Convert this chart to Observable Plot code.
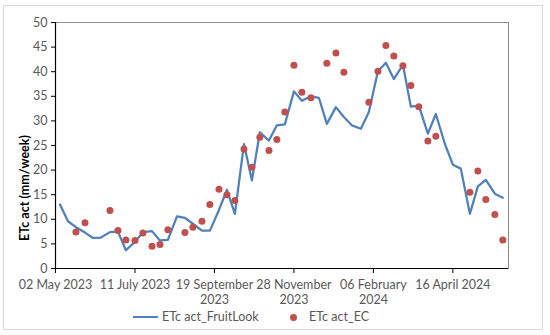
<!DOCTYPE html>
<html><head><meta charset="utf-8">
<script src="https://cdn.jsdelivr.net/npm/d3@7"></script>
<script src="https://cdn.jsdelivr.net/npm/@observablehq/plot@0.6"></script>
<style>
body{margin:0;background:#fff;font-family:Lato,"Open Sans",sans-serif;}
#wrap{position:relative;width:550px;height:335px;overflow:hidden;}
#border{position:absolute;left:3px;top:5px;width:540px;height:325px;border:1px solid #d9d9d9;box-sizing:border-box;}
#chart{position:absolute;left:0;top:0;}
#ylab{position:absolute;left:24px;top:188px;transform:translate(-50%,-50%) rotate(-90deg);font-weight:bold;font-size:12.5px;color:#000;white-space:nowrap;}
.leg{position:absolute;font-size:12.5px;color:#595959;white-space:nowrap;line-height:1;}
</style></head>
<body>
<div id="wrap">
  <div id="border"></div>
  <div id="chart"></div>
  <div id="ylab">ETc act (mm/week)</div>
  <div id="legend"></div>
</div>
<script>
const dates = ["2023-05-06","2023-05-13","2023-05-20","2023-05-28","2023-06-04","2023-06-11","2023-06-19","2023-06-26","2023-07-03","2023-07-11",
"2023-07-18","2023-07-26","2023-08-02","2023-08-09","2023-08-17","2023-08-24","2023-08-31","2023-09-08","2023-09-15","2023-09-23",
"2023-09-30","2023-10-07","2023-10-15","2023-10-22","2023-10-29","2023-11-06","2023-11-13","2023-11-20","2023-11-28","2023-12-05",
"2023-12-13","2023-12-20","2023-12-27","2024-01-04","2024-01-11","2024-01-18","2024-01-26","2024-02-02","2024-02-10","2024-02-17",
"2024-02-24","2024-03-03","2024-03-10","2024-03-17","2024-03-25","2024-04-01","2024-04-09","2024-04-16","2024-04-23","2024-05-01",
"2024-05-08","2024-05-15","2024-05-23","2024-05-30"];
const fruitLook = [13.0,9.6,8.4,7.3,6.2,6.3,7.4,7.5,3.7,5.4,
7.4,7.6,5.7,5.8,10.6,10.3,9.1,7.7,7.7,11.9,
16.0,11.1,25.3,17.9,27.7,26.0,29.1,29.3,36.0,34.1,
35.0,34.7,29.4,32.8,30.8,29.1,28.4,31.8,40.1,41.8,
38.5,41.4,32.9,33.1,27.4,31.4,25.3,21.1,20.3,11.1,
16.7,18.0,15.2,14.4];
const ecValues = [null,null,7.4,9.3,null,null,11.8,7.7,5.8,5.7,
7.2,4.5,4.9,7.9,null,7.3,8.4,9.6,13.0,16.1,
15.0,13.8,24.3,20.6,26.7,24.0,26.2,31.8,41.3,35.8,
34.7,null,41.7,43.8,39.9,null,null,33.8,40.1,45.3,
43.2,41.2,37.2,32.9,25.9,26.9,null,null,null,15.5,
19.8,14.0,11.0,5.8];
const tickDates = ["2023-05-02","2023-07-11","2023-09-19","2023-11-28","2024-02-06","2024-04-16"];
const tickLabels = ["02 May 2023","11 July 2023","19 September\n2023","28 November\n2023","06 February\n2024","16 April 2024"];
const yTicks = [0,5,10,15,20,25,30,35,40,45,50];
const seriesNames = ["ETc act_FruitLook","ETc act_EC"];
const colors = ["#4F81BD","#C0504D"];

const data = dates.map((d,i)=>({date:new Date(d), fl:fruitLook[i], ec:ecValues[i]}));
const labelMap = new Map(tickDates.map((d,i)=>[+new Date(d), tickLabels[i]]));
const x0 = new Date("2023-05-02"), x1 = new Date("2024-06-04");

const plot = Plot.plot({
  width:550, height:335,
  marginTop:22, marginBottom:67, marginLeft:55, marginRight:42,
  style:{fontFamily:"Lato, 'Open Sans', sans-serif", fontSize:"12.5px", background:"transparent"},
  x:{type:"utc", domain:[x0,x1]},
  y:{domain:[0,50]},
  marks:[
    Plot.frame({stroke:"#8c8c8c"}),
    Plot.axisY({ticks:yTicks, tickSize:4, tickPadding:4, label:null, stroke:"#000", fill:"#595959"}),
    Plot.axisX({ticks:tickDates.map(d=>new Date(d)), tickFormat:d=>labelMap.get(+d), tickSize:5, tickPadding:5, label:null, stroke:"#000", fill:"#595959", lineHeight:1.2}),
    Plot.ruleX([x0], {stroke:"#000", strokeWidth:1.2}),
    Plot.ruleY([0], {stroke:"#000", strokeWidth:1.2}),
    Plot.line(data, {x:"date", y:"fl", stroke:colors[0], strokeWidth:2.25}),
    Plot.dot(data.filter(d=>d.ec!=null), {x:"date", y:"ec", r:3.5, fill:colors[1], stroke:"none"})
  ]
});
document.getElementById("chart").appendChild(plot);

const leg = document.getElementById("legend");
leg.innerHTML = `
<div style="position:absolute;left:133px;top:316px;width:25px;height:2px;background:${colors[0]}"></div>
<div class="leg" style="left:162px;top:311px">${seriesNames[0]}</div>
<div style="position:absolute;left:289.5px;top:313.5px;width:7px;height:7px;border-radius:50%;background:${colors[1]}"></div>
<div class="leg" style="left:309px;top:311px">${seriesNames[1]}</div>`;
</script>
</body></html>
